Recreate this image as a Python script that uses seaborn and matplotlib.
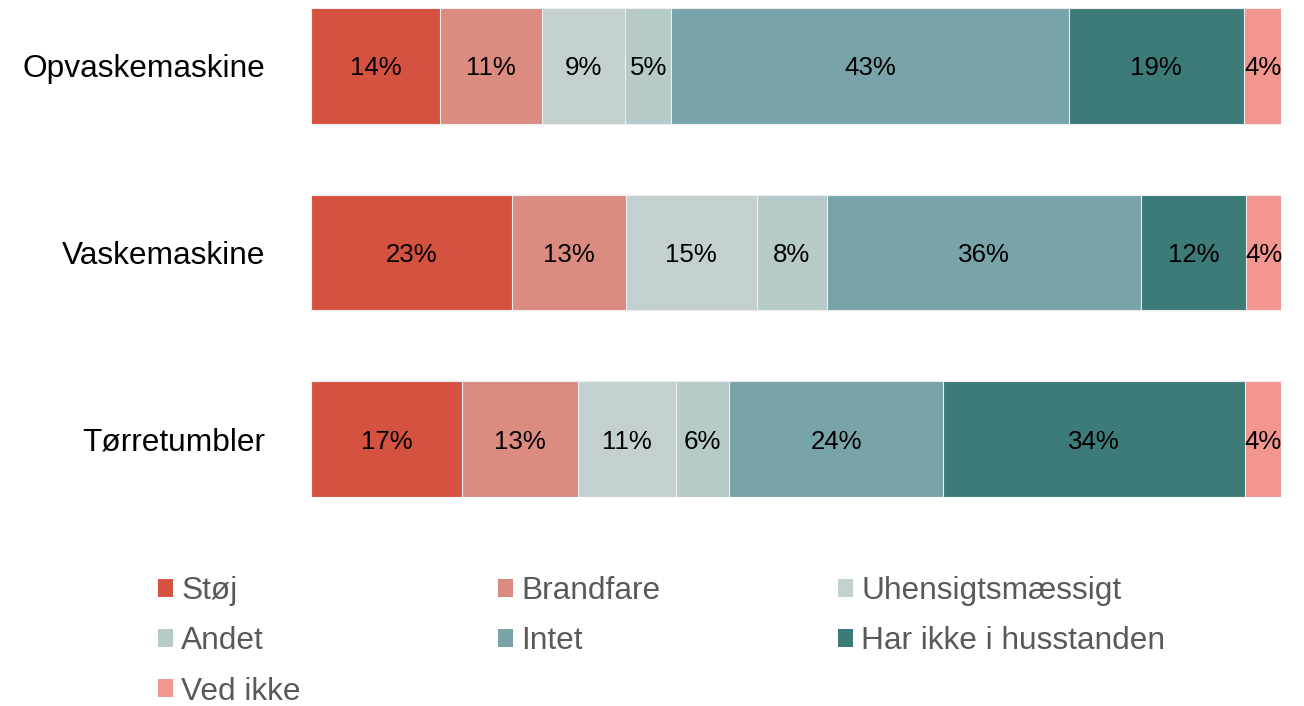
import numpy as np
import pandas as pd
import matplotlib
matplotlib.use("Agg")
import matplotlib.pyplot as plt
from matplotlib.patches import Patch
import seaborn as sns

categories = ["Opvaskemaskine", "Vaskemaskine", "Tørretumbler"]
series = ["Støj", "Brandfare", "Uhensigtsmæssigt", "Andet", "Intet",
          "Har ikke i husstanden", "Ved ikke"]
stoej = [14, 23, 17]
brandfare = [11, 13, 13]
uhensigt = [9, 15, 11]
andet = [5, 8, 6]
intet = [43, 36, 24]
har_ikke = [19, 12, 34]
ved_ikke = [4, 4, 4]
colors = ["#D65240", "#DB8B7F", "#C4D0CF", "#B7CACA", "#78A3A8", "#3D7B79", "#F2968F"]

sns.set_theme(style="white")
plt.rcParams["font.family"] = ["Liberation Sans", "DejaVu Sans"]

df = pd.DataFrame({"kategori": categories, "Støj": stoej, "Brandfare": brandfare,
                   "Uhensigtsmæssigt": uhensigt, "Andet": andet, "Intet": intet,
                   "Har ikke i husstanden": har_ikke, "Ved ikke": ved_ikke})
vals = df[series].to_numpy(dtype=float)
# 100% stacked: normalise each row
shares = vals / vals.sum(axis=1, keepdims=True) * 100
cum = np.cumsum(shares, axis=1)

fig = plt.figure(figsize=(13.04, 7.06), dpi=100)
ax = fig.add_axes([311 / 1304, 1 - 497 / 706, 970 / 1304, 489 / 706])

# draw from the longest cumulative bar to the shortest so segments stack
for i in range(len(series) - 1, -1, -1):
    sns.barplot(x=cum[:, i], y=categories, orient="h", color=colors[i],
                width=0.62, edgecolor="#EEEEEE", linewidth=0.8, ax=ax,
                saturation=1)

for r in range(len(categories)):
    for i in range(len(series)):
        left = cum[r, i] - shares[r, i]
        ax.text(left + shares[r, i] / 2, r, f"{int(vals[r, i])}%",
                ha="center", va="center_baseline", fontsize=18.6, color="black")

ax.set_xlim(0, 100)
ax.set_ylim(2.31, -0.31)
ax.set_xlabel("")
ax.set_ylabel("")
ax.set_xticks([])
ax.tick_params(axis="y", length=0, pad=33, labelsize=22.8, labelcolor="black")
for lbl in ax.get_yticklabels():
    lbl.set_verticalalignment("center_baseline")
sns.despine(ax=ax, left=True, bottom=True)

handles = [Patch(facecolor=c, edgecolor="none") for c in colors]
col_x = [158, 498, 838]
cols = [[0, 3, 6], [1, 4], [2, 5]]
for x, idx in zip(col_x, cols):
    leg = fig.legend([handles[k] for k in idx], [series[k] for k in idx],
                     loc="upper left", bbox_to_anchor=(x / 1304, 1 - 576 / 706),
                     frameon=False, borderpad=0, borderaxespad=0,
                     handlelength=0.48, handleheight=0.48, handletextpad=0.25,
                     labelspacing=0.64, fontsize=22.8, labelcolor="#595959")

fig.savefig("out.png", dpi=100)
